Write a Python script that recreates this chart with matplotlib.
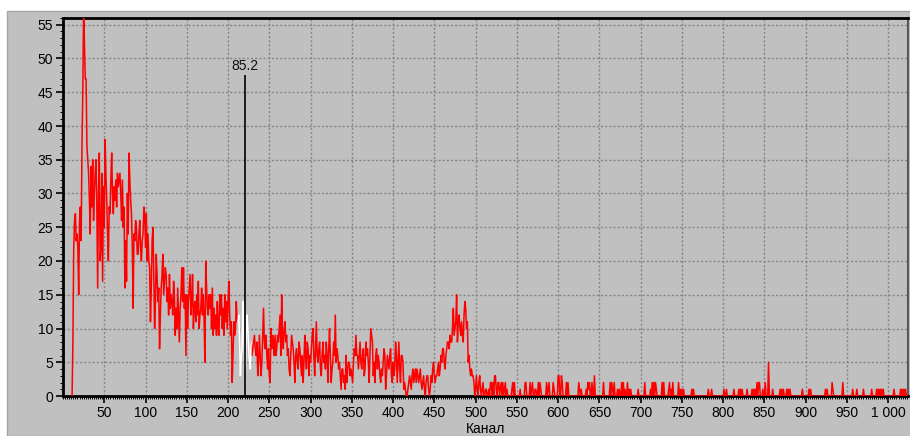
import numpy as np
import matplotlib.pyplot as plt
from matplotlib.ticker import MultipleLocator, FixedLocator, FuncFormatter
from matplotlib.patches import Rectangle

plt.rcParams['font.family'] = ['Liberation Sans', 'DejaVu Sans']

# --- spectrum ---
first_channel = 11
last_channel = 1023

# counts for channels 11 .. 520 (one value per channel)
head_counts = [
    0, 8, 22, 26, 27, 23, 24, 22, 15, 26,        # 11
    28, 23, 37, 45, 58, 52, 47, 47, 37, 35,      # 21
    33, 29, 24, 34, 28, 35, 26, 30, 33, 35,      # 31
    28, 16, 30, 36, 20, 22, 33, 17, 31, 25,      # 41
    38, 33, 29, 24, 20, 28, 27, 32, 36, 30,      # 51
    27, 31, 29, 32, 28, 33, 31, 32, 33, 30,      # 61
    26, 32, 25, 28, 16, 23, 17, 30, 24, 36,      # 71
    32, 29, 27, 22, 13, 24, 23, 26, 25, 21,      # 81
    21, 24, 26, 22, 20, 23, 24, 28, 27, 22,      # 91
    27, 20, 24, 20, 19, 11, 16, 23, 25, 18,      # 101
    10, 14, 21, 18, 14, 16, 7, 12, 16, 18,       # 111
    21, 15, 17, 19, 18, 14, 16, 12, 18, 13,      # 121
    15, 14, 12, 17, 15, 9, 13, 10, 16, 12,       # 131
    8, 13, 15, 19, 14, 19, 13, 15, 6, 15,        # 141
    10, 14, 16, 18, 12, 14, 18, 10, 13, 14,      # 151
    11, 15, 12, 17, 10, 12, 13, 16, 12, 15,      # 161
    11, 5, 20, 16, 13, 12, 15, 13, 15, 10,       # 171
    16, 9, 13, 10, 12, 9, 14, 10, 9, 15,         # 181
    12, 15, 10, 13, 9, 15, 11, 14, 10, 14,       # 191
    17, 12, 9, 11, 2, 6, 11, 9, 10, 14,          # 201
    11, 11, 12, 8, 3, 6, 7, 14, 10, 5,           # 211
    4, 9, 12, 10, 7, 5, 4, 8, 6, 7,              # 221
    8, 9, 7, 6, 8, 3, 5, 9, 6, 3,                # 231
    5, 9, 13, 8, 7, 9, 6, 4, 7, 3,               # 241
    2, 10, 7, 9, 8, 6, 9, 6, 7, 9,               # 251
    8, 10, 12, 6, 15, 9, 7, 10, 11, 8,           # 261
    9, 6, 7, 4, 3, 6, 9, 8, 7, 5,                # 271
    2, 6, 7, 5, 4, 8, 7, 5, 3, 6,                # 281
    2, 5, 9, 6, 4, 8, 7, 3, 6, 5,                # 291
    7, 9, 10, 6, 3, 7, 11, 6, 5, 7,              # 301
    8, 4, 3, 6, 8, 5, 6, 4, 8, 6,                # 311
    2, 7, 10, 6, 2, 4, 5, 8, 6, 12,              # 321
    5, 7, 6, 4, 5, 3, 1, 4, 4, 2,                # 331
    3, 1, 6, 2, 4, 5, 5, 3, 4, 3,                # 341
    2, 5, 7, 6, 9, 6, 6, 4, 6, 8,                # 351
    5, 4, 6, 7, 3, 4, 8, 6, 7, 5,                # 361
    2, 6, 10, 9, 8, 3, 5, 2, 6, 7,               # 371
    4, 6, 5, 3, 2, 4, 3, 5, 7, 6,                # 381
    1, 3, 6, 5, 4, 6, 7, 3, 2, 5,                # 391
    3, 4, 8, 6, 2, 5, 8, 4, 2, 6,                # 401
    6, 5, 1, 2, 1, 0, 0, 1, 2, 3,                # 411
    2, 1, 3, 4, 2, 3, 4, 2, 4, 3,                # 421
    2, 3, 4, 2, 1, 2, 3, 1, 0, 2,                # 431
    3, 3, 1, 0, 1, 3, 2, 4, 5, 3,                # 441
    2, 3, 3, 4, 5, 3, 4, 6, 5, 7,                # 451
    7, 5, 4, 6, 7, 8, 8, 7, 9, 8,                # 461
    8, 10, 13, 9, 10, 11, 15, 8, 11, 12,         # 471
    10, 9, 11, 9, 8, 12, 14, 13, 10, 11,         # 481
    5, 6, 4, 3, 4, 3, 3, 2, 0, 1,                # 491
    3, 1, 0, 2, 3, 1, 0, 1, 2, 0,                # 501
    0, 1, 1, 0, 0, 1, 0, 2, 2, 0,                # 511
]

# sparse tail above channel 520: only the non-zero channels
tail_channels = [
    521, 523, 524, 525, 527, 528, 530, 531, 533, 535, 536, 538,
    544, 545, 547, 554, 560, 561, 566, 568, 569, 572, 573, 576, 578, 579,
    586, 588, 589, 594, 595, 600, 601, 604, 605, 610, 612,
    625, 626, 628, 634, 636, 637, 638, 641, 644, 655,
    663, 665, 666, 668, 672, 674, 677, 679, 681, 684, 686, 688, 697,
    705, 712, 714, 716, 718, 719, 726, 728, 734, 735, 737, 739,
    746, 748, 750, 752, 762, 764,
    782, 786, 801, 804, 813, 819, 821, 823, 829, 835, 837, 839,
    841, 843, 844, 848, 851, 855, 860, 869, 871, 873, 877, 879, 881,
    896, 904, 906, 924, 926, 932, 933, 945, 957, 962, 970, 980,
    986, 988, 990, 992, 994, 1007, 1015, 1017, 1019, 1021,
]
tail_counts = [
    2, 3, 3, 1, 2, 2, 1, 2, 2, 1, 2, 1,
    1, 2, 2, 1, 2, 2, 2, 1, 2, 1, 1, 2, 2, 1,
    2, 1, 2, 2, 1, 3, 3, 3, 2, 2, 2,
    2, 1, 1, 1, 2, 1, 2, 2, 3, 2,
    2, 2, 1, 2, 1, 1, 2, 2, 1, 2, 1, 1, 1,
    2, 1, 2, 2, 2, 1, 2, 2, 1, 2, 1, 2,
    2, 1, 1, 1, 1, 1,
    1, 1, 1, 1, 1, 1, 1, 1, 1, 1, 1, 1,
    2, 2, 2, 1, 2, 5, 1, 1, 1, 1, 1, 1, 1,
    1, 1, 1, 1, 1, 2, 1, 2, 1, 1, 1, 1,
    1, 1, 1, 1, 1, 1, 1, 1, 1, 1,
]

# highlighted (white) region and the marker
roi_start, roi_end = 212, 228
marker_channel = 221
marker_height = 47.6
marker_label = '85.2'

x_ticks = list(range(50, 1001, 50))
y_ticks = list(range(0, 56, 5))

# ======================
# assemble series
# ======================
channels = np.arange(first_channel, last_channel + 1)
counts = np.zeros(len(channels))
counts[:len(head_counts)] = head_counts
for ch, v in zip(tail_channels, tail_counts):
    counts[ch - first_channel] = v

in_roi = (channels >= roi_start) & (channels <= roi_end)
red_y = np.where((channels > roi_start) & (channels < roi_end), np.nan, counts)
white_y = np.where(in_roi, counts, np.nan)

# ======================
# figure
# ======================
W, H = 910, 436
fig = plt.figure(figsize=(W / 100, H / 100), dpi=100, facecolor='white')
fig.patches.append(Rectangle((7 / W, 0), 1, 1 - 11 / H, transform=fig.transFigure,
                             facecolor='#c0c0c0', edgecolor='#a4a4a4', lw=1, zorder=-1))
ax = fig.add_axes([63 / W, 40 / H, 845 / W, 378 / H])
ax.set_facecolor('#c0c0c0')

ax.plot(channels, red_y, color='#ff0000', lw=1.1, zorder=3)
ax.plot(channels, white_y, color='white', lw=1.1, zorder=3)

ax.vlines(marker_channel, 0, marker_height, color='black', lw=1.2, zorder=4)
ax.text(marker_channel, marker_height + 0.3, marker_label, ha='center', va='bottom',
        fontsize=10, color='#111111', zorder=5)

ax.set_xlim(0, 1024)
ax.set_ylim(0, 56)

ax.xaxis.set_major_locator(FixedLocator(x_ticks))
ax.xaxis.set_major_formatter(FuncFormatter(lambda v, p: f"{int(v):,}".replace(',', ' ')))
ax.xaxis.set_minor_locator(MultipleLocator(2.5))
ax.yaxis.set_major_locator(FixedLocator(y_ticks))
ax.yaxis.set_minor_locator(MultipleLocator(1))

ax.grid(True, which='major', color='#858585', linestyle=(0, (1.5, 1.5)), lw=1.0, zorder=1)
ax.set_axisbelow(True)

ax.tick_params(which='major', direction='out', length=5, width=1.2, labelsize=10,
               colors='black', pad=2, top=False, right=False)
ax.tick_params(which='minor', direction='out', length=2.5, width=0.7,
               top=False, right=False)

for side in ['left', 'bottom', 'top']:
    ax.spines[side].set_color('black')
    ax.spines[side].set_linewidth(2)
ax.spines['right'].set_color('#5a5a5a')
ax.spines['right'].set_linewidth(1.5)

ax.set_xlabel('Канал', fontsize=10, labelpad=1.5)

fig.savefig('out.png', dpi=100, facecolor=fig.get_facecolor())
